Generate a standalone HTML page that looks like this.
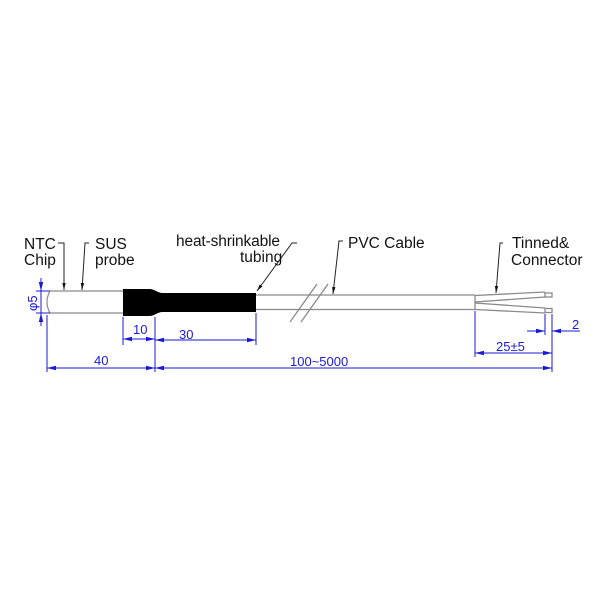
<!DOCTYPE html>
<html><head><meta charset="utf-8"><style>
html,body{margin:0;padding:0;background:#fff;}
svg{display:block;}
text{font-family:"Liberation Sans",Arial,sans-serif;}
.lbl{font-size:15.5px;fill:#111;}
.dim{font-size:13px;fill:#1a1ad6;}
</style></head><body>
<svg width="600" height="600" viewBox="0 0 600 600" xmlns="http://www.w3.org/2000/svg">
<rect width="600" height="600" fill="#fff"/>
<defs>
<marker id="ab" markerWidth="9" markerHeight="6" refX="9" refY="3" orient="auto" markerUnits="userSpaceOnUse">
<path d="M0,0.8 L9,3 L0,5.2 Z" fill="#1a1ad6"/>
</marker>
<marker id="ak" markerWidth="7" markerHeight="5" refX="7" refY="2.5" orient="auto" markerUnits="userSpaceOnUse">
<path d="M0,0.8 L7,2.5 L0,4.2 Z" fill="#111"/>
</marker>
</defs>

<!-- probe -->
<g stroke="#8a8a8a" stroke-width="1.2" fill="none">
<line x1="50" y1="291" x2="124" y2="291"/>
<line x1="50" y1="313" x2="124" y2="313"/>
<path d="M50,291 Q44,302 50,313"/>
</g>

<!-- heat shrink tube -->
<path d="M123,289 L149,289 C155,289 157,293 163,293 L256,293 L256,312 L163,312 C157,312 155,316 149,316 L123,316 Z" fill="#000"/>

<!-- cable -->
<g stroke="#8a8a8a" stroke-width="1.3" fill="none">
<line x1="256" y1="295" x2="475" y2="295"/>
<line x1="256" y1="309.5" x2="475" y2="309.5"/>
<line x1="475" y1="295" x2="475" y2="310"/>
<!-- break marks -->
<line x1="290" y1="322" x2="317" y2="284"/>
<line x1="301" y1="322" x2="328" y2="284"/>
<!-- wires -->
<line x1="475" y1="295.5" x2="545" y2="292"/>
<line x1="475" y1="302" x2="545" y2="297"/>
<line x1="475" y1="303" x2="545" y2="308"/>
<line x1="475" y1="309.5" x2="545" y2="313"/>
<!-- tips -->
<rect x="545" y="293" width="7" height="4"/>
<rect x="545" y="308.5" width="7" height="4"/>
</g>

<!-- leaders -->
<g stroke="#222" stroke-width="1" fill="none">
<polyline points="58,243 64,243 64,290" marker-end="url(#ak)"/>
<polyline points="89,243 85,243 82,290" marker-end="url(#ak)"/>
<polyline points="297,243 292,243 257,291" marker-end="url(#ak)"/>
<polyline points="343,241 339,241 333,294" marker-end="url(#ak)"/>
<polyline points="503,243 500,243 496,293" marker-end="url(#ak)"/>
</g>

<!-- labels -->
<text class="lbl" x="24" y="249">NTC</text>
<text class="lbl" x="24" y="265">Chip</text>
<text class="lbl" x="95" y="249">SUS</text>
<text class="lbl" x="95" y="265">probe</text>
<text class="lbl" x="176" y="246" textLength="104">heat-shrinkable</text>
<text class="lbl" x="240" y="262">tubing</text>
<text class="lbl" x="348" y="248">PVC Cable</text>
<text class="lbl" x="512" y="248">Tinned&amp;</text>
<text class="lbl" x="511" y="265">Connector</text>

<!-- dimensions -->
<g stroke="#1a1ad6" stroke-width="1" fill="none">
<!-- phi -->
<line x1="36" y1="291" x2="50" y2="291"/>
<line x1="36" y1="313" x2="50" y2="313"/>
<line x1="41" y1="278" x2="41" y2="291" marker-end="url(#ab)"/>
<line x1="41" y1="326" x2="41" y2="313" marker-end="url(#ab)"/>
<line x1="41" y1="291" x2="41" y2="313"/>
<!-- extension lines -->
<line x1="47" y1="315" x2="47" y2="372"/>
<line x1="123" y1="317" x2="123" y2="345"/>
<line x1="155" y1="317" x2="155" y2="372"/>
<line x1="256" y1="313" x2="256" y2="345"/>
<line x1="475" y1="311" x2="475" y2="357"/>
<line x1="545" y1="314" x2="545" y2="335"/>
<line x1="552" y1="314" x2="552" y2="372"/>
<!-- 10 -->
<line x1="139" y1="339" x2="123" y2="339" marker-end="url(#ab)"/>
<line x1="139" y1="339" x2="155" y2="339" marker-end="url(#ab)"/>
<!-- 30 -->
<line x1="205" y1="340" x2="155" y2="340" marker-end="url(#ab)"/>
<line x1="205" y1="340" x2="256" y2="340" marker-end="url(#ab)"/>
<!-- 40 -->
<line x1="100" y1="368" x2="47" y2="368" marker-end="url(#ab)"/>
<line x1="100" y1="368" x2="155" y2="368" marker-end="url(#ab)"/>
<!-- 100~5000 -->
<line x1="350" y1="368" x2="155" y2="368" marker-end="url(#ab)"/>
<line x1="350" y1="368" x2="552" y2="368" marker-end="url(#ab)"/>
<!-- 25±5 -->
<line x1="513" y1="353" x2="475" y2="353" marker-end="url(#ab)"/>
<line x1="513" y1="353" x2="552" y2="353" marker-end="url(#ab)"/>
<!-- 2 -->
<line x1="527" y1="331" x2="545" y2="331" marker-end="url(#ab)"/>
<line x1="580" y1="331" x2="552" y2="331" marker-end="url(#ab)"/>
</g>

<g class="dim">
<text class="dim" x="133" y="334">10</text>
<text class="dim" x="179" y="339">30</text>
<text class="dim" x="94" y="365">40</text>
<text class="dim" x="290" y="366">100~5000</text>
<text class="dim" x="496" y="351">25±5</text>
<text class="dim" x="572" y="329">2</text>
<text class="dim" transform="translate(37,311) rotate(-90)" x="0" y="0">φ5</text>
</g>
</svg>
</body></html>
